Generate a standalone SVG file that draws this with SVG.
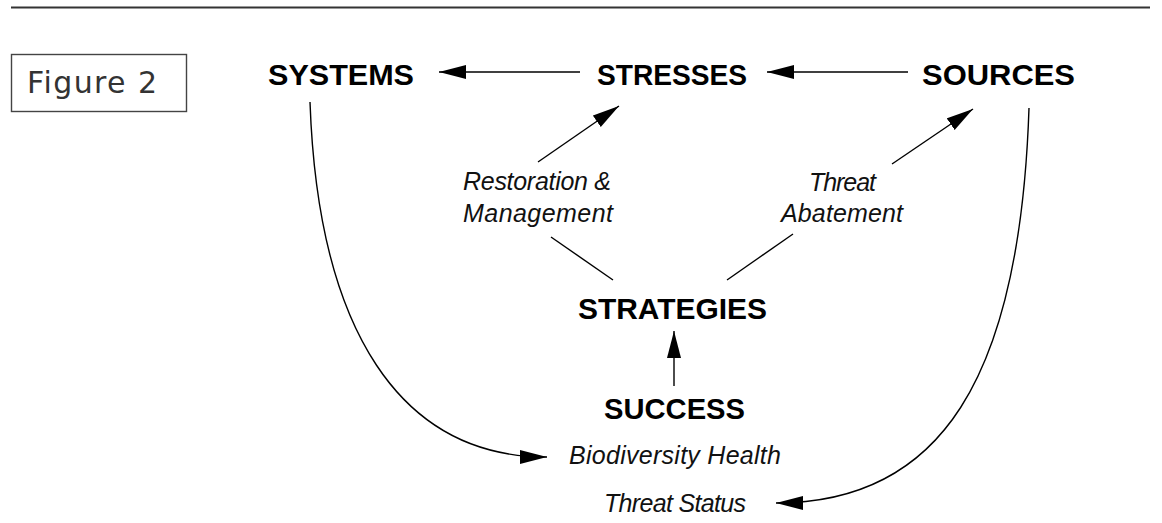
<svg xmlns="http://www.w3.org/2000/svg" width="1162" height="523" viewBox="0 0 1162 523">
<style>
.bold{font-family:"Liberation Sans",Arial,sans-serif;font-weight:bold;font-size:30px;fill:#000}
.ital{font-family:"Liberation Sans",Arial,sans-serif;font-style:italic;font-size:25px;fill:#111}
.fig{font-family:"DejaVu Sans",sans-serif;font-size:30px;fill:#333}
.conn{fill:none;stroke:#000;stroke-width:1.4}
</style>
<defs>
<marker id="arr" markerUnits="userSpaceOnUse" markerWidth="28" markerHeight="16" refX="27" refY="7" orient="auto">
<path d="M0,0 L27,7 L0,14 z" fill="#000"/>
</marker>
</defs>
<rect width="1162" height="523" fill="#fff"/>
<line x1="11" y1="7.5" x2="1150" y2="7.5" stroke="#333" stroke-width="2"/>
<g id="figure-label">
<rect x="11.5" y="54.5" width="175" height="57" fill="none" stroke="#444" stroke-width="1.4"/>
<text class="fig" x="27" y="93" textLength="130" lengthAdjust="spacing">Figure 2</text>
</g>
<g id="systems"><text class="bold" x="268" y="85" textLength="146" lengthAdjust="spacingAndGlyphs">SYSTEMS</text></g>
<g id="stresses"><text class="bold" x="597" y="85" textLength="150" lengthAdjust="spacingAndGlyphs">STRESSES</text></g>
<g id="sources"><text class="bold" x="922" y="85" textLength="153" lengthAdjust="spacingAndGlyphs">SOURCES</text></g>
<g id="strategies"><text class="bold" x="578" y="319" textLength="189" lengthAdjust="spacingAndGlyphs">STRATEGIES</text></g>
<g id="success">
<text class="bold" x="604" y="419" textLength="141" lengthAdjust="spacingAndGlyphs">SUCCESS</text>
<text class="ital" x="569" y="464" textLength="212" lengthAdjust="spacing">Biodiversity Health</text>
<text class="ital" x="604" y="512" textLength="142" lengthAdjust="spacing">Threat Status</text>
</g>
<g id="connectors">
<path class="conn" d="M908,72 L767,72" marker-end="url(#arr)"/>
<path class="conn" d="M580,72 L439,72" marker-end="url(#arr)"/>
<path class="conn" d="M538,162 L619,106" marker-end="url(#arr)"/>
<path class="conn" d="M892,164 L973,109" marker-end="url(#arr)"/>
<path class="conn" d="M551,237 L613,280"/>
<path class="conn" d="M793,234 L727,280"/>
<path class="conn" d="M674,386 L674,331" marker-end="url(#arr)"/>
<path class="conn" d="M310,102 C318,330 400,457 547,457" marker-end="url(#arr)"/>
<path class="conn" d="M1029,108 C1020,380 940,503 776,503" marker-end="url(#arr)"/>
<text class="ital" x="463" y="190" textLength="148" lengthAdjust="spacing">Restoration &amp;</text>
<text class="ital" x="463" y="222" textLength="150" lengthAdjust="spacing">Management</text>
<text class="ital" x="809" y="191" textLength="67" lengthAdjust="spacing">Threat</text>
<text class="ital" x="781" y="222" textLength="122" lengthAdjust="spacing">Abatement</text>
</g>
</svg>
